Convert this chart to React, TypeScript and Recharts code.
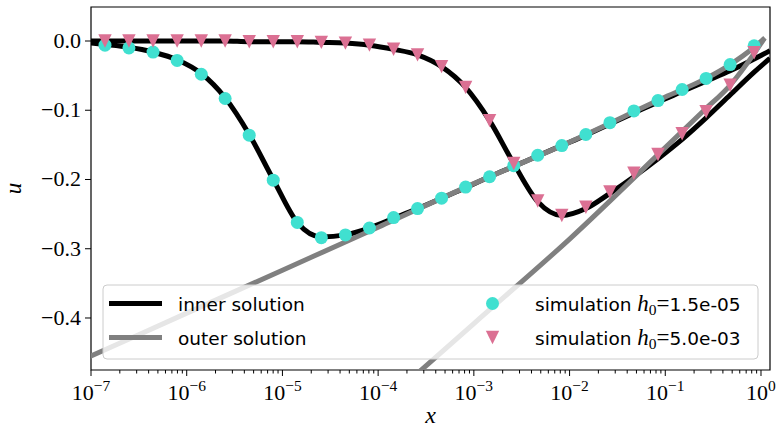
import React from "react";
import { ComposedChart, Line, XAxis, YAxis, ReferenceArea } from "recharts";

// axis limits
const X_MIN = 1e-7;
const X_MAX = 1.242;
const Y_MIN = -0.4751;
const Y_MAX = 0.0491;

// sample positions of both simulations
const simX = [
  1.4e-7, 2.49e-7, 4.45e-7, 7.94e-7, 1.42e-6, 2.52e-6, 4.5e-6, 8.02e-6, 1.43e-5, 2.55e-5,
  4.55e-5, 8.11e-5, 1.45e-4, 2.58e-4, 4.6e-4, 8.2e-4, 1.46e-3, 2.61e-3, 4.65e-3, 8.3e-3,
  1.48e-2, 2.64e-2, 4.7e-2, 8.39e-2, 0.15, 0.267, 0.476, 0.848,
];
// simulation h0 = 1.5e-05 (circles)
const simU1 = [
  -0.006, -0.01, -0.016, -0.028, -0.048, -0.083, -0.136, -0.201, -0.262, -0.284,
  -0.28, -0.27, -0.255, -0.242, -0.227, -0.211, -0.196, -0.18, -0.165, -0.151,
  -0.135, -0.118, -0.101, -0.086, -0.07, -0.054, -0.034, -0.007,
];
// simulation h0 = 5.0e-03 (triangles)
const simU2 = [
  0, 0, 0, 0, 0, 0, -0.001, -0.001, -0.001, -0.002,
  -0.003, -0.006, -0.012, -0.02, -0.037, -0.067, -0.115, -0.177, -0.231, -0.252,
  -0.24, -0.218, -0.191, -0.164, -0.134, -0.102, -0.064, -0.017,
];

// inner solutions (black)
const innerX = [1e-7, ...simX, 1.242];
const innerU1 = [
  -0.003, -0.005, -0.009, -0.016, -0.027, -0.047, -0.082, -0.135, -0.2, -0.262, -0.283,
  -0.28, -0.27, -0.256, -0.242, -0.227, -0.212, -0.196, -0.181, -0.166, -0.151,
  -0.136, -0.12, -0.104, -0.088, -0.073, -0.058, -0.043, -0.026, -0.014,
];
const innerU2 = [
  0, 0, 0, 0, 0, 0, 0, -0.001, -0.001, -0.001, -0.002,
  -0.003, -0.006, -0.012, -0.02, -0.037, -0.067, -0.115, -0.177, -0.232, -0.252,
  -0.242, -0.22, -0.196, -0.17, -0.142, -0.111, -0.078, -0.045, -0.025,
];

// outer solutions (gray)
const outerX1 = [1e-7, 1e-6, 1e-5, 1e-4, 1e-3, 1e-2, 0.1, 0.267, 0.476, 0.848, 1.05];
const outerU1 = [-0.455, -0.393, -0.331, -0.269, -0.206, -0.146, -0.081, -0.054, -0.034, -0.009, 0.002];
const outerX2 = [1e-4, 1e-3, 1e-2, 0.1, 0.25, 0.475, 0.868, 1.05];
const outerU2 = [-0.53, -0.408, -0.286, -0.154, -0.101, -0.064, -0.016, 0.001];

const yTicks = [-0.4, -0.3, -0.2, -0.1, 0];
const xTicks: number[] = [];
for (let n = -7; n <= 0; n++) {
  xTicks.push(Math.pow(10, n));
  if (n < 0) for (let k = 2; k <= 9; k++) xTicks.push(k * Math.pow(10, n));
}

const toRows = (xs: number[], us: number[]) => xs.map((x, i) => ({ x, u: us[i] }));
const inner1 = toRows(innerX, innerU1);
const inner2 = toRows(innerX, innerU2);
const outer1 = toRows(outerX1, outerU1);
const outer2 = toRows(outerX2, outerU2);
const sim1 = toRows(simX, simU1);
const sim2 = toRows(simX, simU2);

const TURQ = "#40E0D0";
const PINK = "#DB7093";
const serif = { fontFamily: "'Liberation Serif', 'DejaVu Serif', serif" };
const serifIt = { fontFamily: "'Liberation Serif', 'DejaVu Serif', serif", fontStyle: "italic" };
const sans = { fontFamily: "'DejaVu Sans', sans-serif" };

const XTick = (props: any) => {
  const { x, y, payload } = props;
  const lg = Math.log10(payload.value);
  const major = Math.abs(lg - Math.round(lg)) < 1e-6;
  const exp = Math.round(lg);
  return (
    <g>
      <line x1={x} x2={x} y1={y} y2={y + (major ? 6 : 3.5)} stroke="#000" strokeWidth={1} />
      {major && (
        <text x={x} y={y + 30} textAnchor="middle" style={{ ...serif, fontSize: 22 }} fill="#000">
          <tspan>10</tspan>
          <tspan dy={-9} style={{ fontSize: 15.5 }}>
            {exp < 0 ? "\u2212" + Math.abs(exp) : String(exp)}
          </tspan>
        </text>
      )}
    </g>
  );
};

const YTick = (props: any) => {
  const { x, y, payload } = props;
  const v = payload.value;
  const label = Math.abs(v) < 1e-9 ? "0.0" : "\u2212" + Math.abs(v).toFixed(1);
  return (
    <g>
      <line x1={x - 6} x2={x} y1={y} y2={y} stroke="#000" strokeWidth={1} />
      <text x={x - 10} y={y + 7} textAnchor="end" style={{ ...serif, fontSize: 22 }} fill="#000">
        {label}
      </text>
    </g>
  );
};

const CircleDot = (props: any) => {
  const { cx, cy, index } = props;
  return <circle key={"c" + index} cx={cx} cy={cy} r={6.5} fill={TURQ} />;
};

const TriDot = (props: any) => {
  const { cx, cy, index } = props;
  const s = 6.7;
  return (
    <polygon
      key={"t" + index}
      points={`${cx - s},${cy - s} ${cx + s},${cy - s} ${cx},${cy + s}`}
      fill={PINK}
    />
  );
};

const SimLabel = ({ y, value }: { y: number; value: string }) => (
  <text x={535} y={y} style={{ ...sans, fontSize: 18.5 }} fill="#000">
    simulation{" "}
    <tspan style={{ ...serifIt, fontSize: 23 }}>h</tspan>
    <tspan style={{ ...serif, fontSize: 15.5 }} dy={4}>0</tspan>
    <tspan style={{ ...serif, fontSize: 23 }} dy={-4}>=</tspan>
    <tspan>{value}</tspan>
  </text>
);

const App = () => {
  return (
    <div style={{ position: "absolute", left: 0, top: 0, width: 779, height: 429, background: "#fff" }}>
      <ComposedChart width={779} height={429} margin={{ top: 7, right: 9, bottom: 0, left: 0 }}>
        <XAxis
          dataKey="x"
          type="number"
          scale="log"
          domain={[X_MIN, X_MAX]}
          allowDataOverflow
          ticks={xTicks}
          interval={0}
          tick={<XTick />}
          tickLine={false}
          axisLine={false}
          tickSize={0}
          tickMargin={0}
          height={59}
        />
        <YAxis
          dataKey="u"
          type="number"
          domain={[Y_MIN, Y_MAX]}
          allowDataOverflow
          ticks={yTicks}
          interval={0}
          tick={<YTick />}
          tickLine={false}
          axisLine={false}
          tickSize={0}
          tickMargin={0}
          width={91}
        />
        <Line data={inner1} dataKey="u" type="monotone" stroke="#000" strokeWidth={5} dot={false} isAnimationActive={false} />
        <Line data={inner2} dataKey="u" type="monotone" stroke="#000" strokeWidth={5} dot={false} isAnimationActive={false} />
        <Line data={outer1} dataKey="u" type="monotone" stroke="#808080" strokeWidth={5} strokeLinecap="square" dot={false} isAnimationActive={false} />
        <Line data={outer2} dataKey="u" type="monotone" stroke="#808080" strokeWidth={5} strokeLinecap="square" dot={false} isAnimationActive={false} />
        <Line data={sim1} dataKey="u" stroke="none" dot={CircleDot} isAnimationActive={false} />
        <Line data={sim2} dataKey="u" stroke="none" dot={TriDot} isAnimationActive={false} />
        <ReferenceArea x1={X_MIN} x2={X_MAX} y1={Y_MIN} y2={Y_MAX} fill="none" stroke="#000" strokeWidth={1.2} ifOverflow="visible" />
      </ComposedChart>
      <svg width={779} height={429} style={{ position: "absolute", left: 0, top: 0, pointerEvents: "none" }}>
        <text x={430.5} y={423} textAnchor="middle" style={{ ...serifIt, fontSize: 24 }}>
          x
        </text>
        <text x={0} y={0} transform="translate(21,188.5) rotate(-90)" textAnchor="middle" style={{ ...serifIt, fontSize: 23 }}>
          u
        </text>
        <rect x={103} y={285} width={655} height={74} rx={4} fill="#fff" fillOpacity={0.8} stroke="#cccccc" strokeWidth={1} />
        <line x1={109} x2={162} y1={303.5} y2={303.5} stroke="#000" strokeWidth={5} />
        <line x1={109} x2={162} y1={337.5} y2={337.5} stroke="#808080" strokeWidth={5} />
        <text x={178} y={311} style={{ ...sans, fontSize: 18.5 }} fill="#000">inner solution</text>
        <text x={178} y={345} style={{ ...sans, fontSize: 18.5 }} fill="#000">outer solution</text>
        <circle cx={492.5} cy={303.5} r={6.5} fill={TURQ} />
        <polygon points="485.8,330.8 499.2,330.8 492.5,344.2" fill={PINK} />
        <SimLabel y={311} value="1.5e-05" />
        <SimLabel y={345} value="5.0e-03" />
      </svg>
    </div>
  );
};

export default App;
